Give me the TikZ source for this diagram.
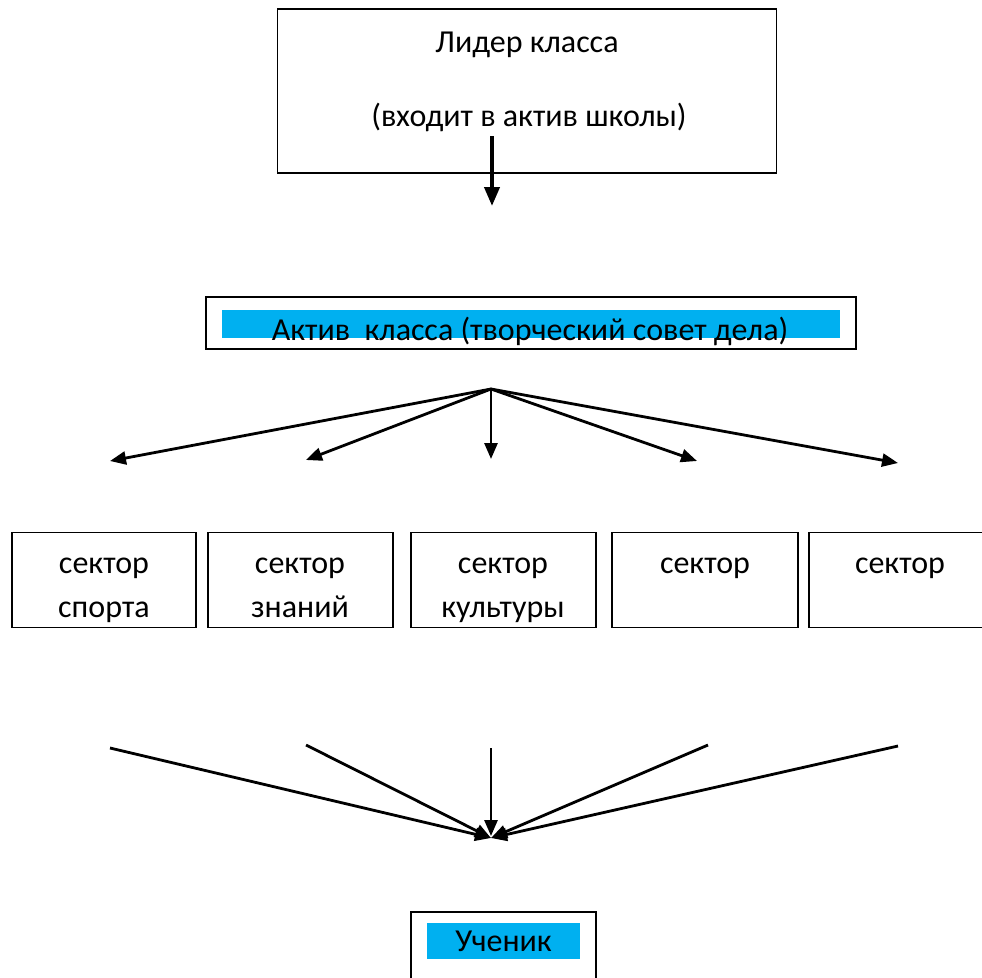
\documentclass[tikz,border=0pt]{standalone}
\usepackage{fontspec}
\setmainfont{Carlito}
\usetikzlibrary{arrows.meta}
\definecolor{barblue}{HTML}{00B0F0}
\begin{document}
\begin{tikzpicture}[x=1pt,y=-1pt,
  box/.style={draw=black,line width=1.7pt,inner sep=0pt},
  bar/.style={fill=barblue,draw=none,inner sep=0pt},
  txt/.style={inner sep=0pt,anchor=base,font=\fontsize{32}{38}\selectfont,text=black},
  fan/.style={line width=2.8pt,-{Triangle[length=16pt,width=13pt]}},
  thick arrow/.style={line width=4pt,-{Triangle[length=19pt,width=15pt]}}]
\useasboundingbox (0,0) rectangle (982,977);
\clip (0,0) rectangle (982,977);
% top box
\node[box,minimum width=499pt,minimum height=164pt] (leader) at (527,91) {};
\node[txt] (leaderA) at (527,52) {Лидер класса};
\node[txt] (leaderB) at (529,126) {(входит в актив школы)};
\coordinate (arrTop) at (492,136);
\coordinate (arrEnd) at (492,206);
\draw[thick arrow] (arrTop) -- (arrEnd);
% middle box
\node[box,minimum width=650pt,minimum height=52pt] (aktiv) at (531,323) {};
\node[bar,minimum width=618pt,minimum height=28pt] (aktivbar) at (531,324) {};
\node[txt] (aktivtxt) at (530,340) {Актив\ \ класса (творческий совет дела)};
% fan out
\coordinate (src) at (491,389);
\coordinate (t1) at (110,461);
\coordinate (t2) at (306,460);
\coordinate (t3) at (491,459);
\coordinate (t4) at (697,461);
\coordinate (t5) at (898,463);
\foreach \t in {t1,t2,t3,t4,t5} \draw[fan] (src) -- (\t);
% sectors
\node[box,minimum width=184pt,minimum height=95pt] (s1) at (104,580) {};
\node[box,minimum width=185pt,minimum height=95pt] (s2) at (300.5,580) {};
\node[box,minimum width=185pt,minimum height=95pt] (s3) at (503.5,580) {};
\node[box,minimum width=186pt,minimum height=95pt] (s4) at (705,580) {};
\node[box,minimum width=186pt,minimum height=95pt] (s5) at (902,580) {};
\node[txt] (s1a) at (104,573) {сектор};
\node[txt] (s1b) at (104,617) {спорта};
\node[txt] (s2a) at (300,573) {сектор};
\node[txt] (s2b) at (300,617) {знаний};
\node[txt] (s3a) at (503,573) {сектор};
\node[txt] (s3b) at (503,617) {культуры};
\node[txt] (s4a) at (705,573) {сектор};
\node[txt] (s5a) at (900,573) {сектор};
% fan in
\coordinate (b1) at (110,748);
\coordinate (b2) at (306,745);
\coordinate (b3) at (491,748);
\coordinate (b4) at (708,745);
\coordinate (b5) at (898,746);
\coordinate (sink) at (491,838);
\coordinate (sinkc) at (491,836);
\draw[fan] (b1) -- (sink);
\draw[fan] (b2) -- (sink);
\draw[fan] (b3) -- (sinkc);
\draw[fan] (b4) -- (sink);
\draw[fan] (b5) -- (sink);
% bottom box
\node[box,minimum width=185pt,minimum height=100pt] (pupil) at (503.5,962) {};
\node[bar,minimum width=153pt,minimum height=36pt] (pupilbar) at (503.5,941) {};
\node[txt] (pupiltxt) at (503.5,951) {Ученик};
\end{tikzpicture}
\end{document}
